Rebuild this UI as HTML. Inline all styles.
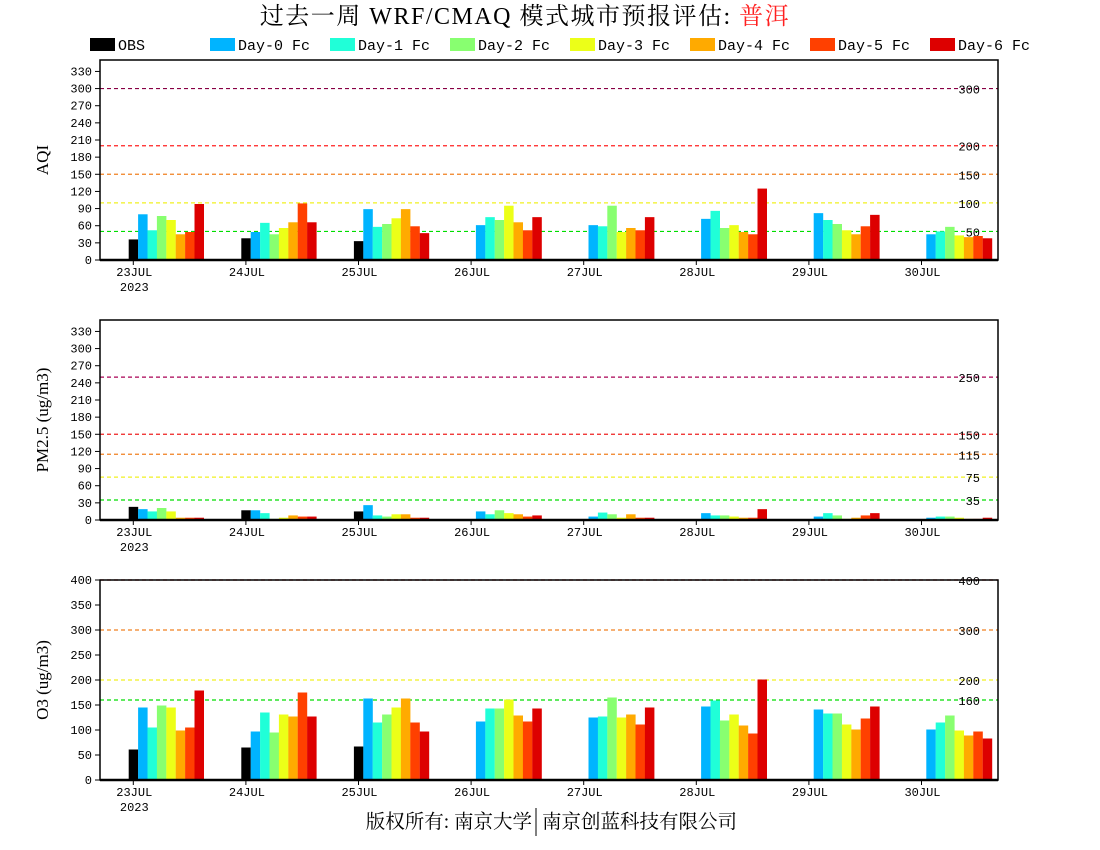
<!DOCTYPE html>
<html><head><meta charset="utf-8"><style>
body{margin:0;background:#fff;}
svg{display:block;font-family:"Liberation Mono",monospace;}
</style></head><body>
<svg id="chart" width="1100" height="850" xmlns="http://www.w3.org/2000/svg">
<text x="525" y="24" text-anchor="middle" font-family="'Liberation Serif','Noto Serif CJK SC',serif" font-size="24" letter-spacing="1.5">过去一周 WRF/CMAQ 模式城市预报评估: <tspan fill="#ff2020">普洱</tspan></text>
<g id="legend"></g>
<g id="panels"></g>
<text x="532" y="828" text-anchor="end" font-family="'Liberation Serif','Noto Serif CJK SC',serif" font-size="19.5">版权所有: 南京大学</text>
<text x="542" y="828" text-anchor="start" font-family="'Liberation Serif','Noto Serif CJK SC',serif" font-size="19.5">南京创蓝科技有限公司</text>
<line x1="536" y1="808" x2="536" y2="836" stroke="#000" stroke-width="1"/>
</svg>
<script>
const categories = ["23JUL","24JUL","25JUL","26JUL","27JUL","28JUL","29JUL","30JUL"];
const seriesNames = ["OBS","Day-0 Fc","Day-1 Fc","Day-2 Fc","Day-3 Fc","Day-4 Fc","Day-5 Fc","Day-6 Fc"];
const seriesColors = ["#000000","#00b4ff","#20ffd8","#88ff70","#ecff18","#ffaa00","#ff4000","#dd0000"];
// values per day: [OBS, D0..D6]; null = missing
const aqiValues = [
 [36,80,52,77,70,45,49,98],
 [38,49,65,45,56,66,99,66],
 [33,89,58,63,73,89,59,47],
 [null,61,75,70,95,66,52,75],
 [null,61,59,95,49,56,52,75],
 [null,72,86,56,61,49,45,125],
 [null,82,70,63,52,45,59,79],
 [null,45,50,58,43,40,42,38]
];
const pm25Values = [
 [23,19,15,21,15,4,4,4],
 [17,17,12,2,4,8,6,6],
 [15,26,8,6,10,10,4,4],
 [null,15,10,17,12,10,6,8],
 [null,6,13,10,4,10,4,4],
 [null,12,8,8,6,4,4,19],
 [null,6,12,8,2,4,8,12],
 [null,4,6,6,4,2,2,4]
];
const o3Values = [
 [61,145,105,149,145,99,105,179],
 [65,97,135,95,131,127,175,127],
 [67,163,115,131,145,163,115,97],
 [null,117,143,143,161,129,117,143],
 [null,125,127,165,125,131,111,145],
 [null,147,159,119,131,109,93,201],
 [null,141,133,133,111,101,123,147],
 [null,101,115,129,99,89,97,83]
];
const aqiTicks = [0,30,60,90,120,150,180,210,240,270,300,330];
const pmTicks = [0,30,60,90,120,150,180,210,240,270,300,330];
const o3Ticks = [0,50,100,150,200,250,300,350,400];
const aqiLevels = [50,100,150,200,300];
const pmLevels = [35,75,115,150,250];
const o3Levels = [160,200,300,400];
const aqiLevelColors = ["#00dd00","#f0f020","#f08020","#ff2020","#880044"];
const pmLevelColors = ["#00dd00","#f0f020","#f08020","#ee2020","#aa0055"];
const o3LevelColors = ["#00dd00","#f0f020","#f08020","#ee0000"];

const NS="http://www.w3.org/2000/svg";
function mk(tag,attrs,parent){const e=document.createElementNS(NS,tag);for(const k in attrs)e.setAttribute(k,attrs[k]);parent.appendChild(e);return e;}
const legend=document.getElementById('legend');
seriesNames.forEach((n,i)=>{
  const lx = i===0 ? 90 : 210+(i-1)*120;
  const r=mk('rect',{x:lx,y:38,width:25,height:13,fill:seriesColors[i]},legend);
  
  
  const t=mk('text',{x:lx+28,y:50,'font-size':15},legend);
  
  
  t.textContent=n;
});

const X0=100,X1=998;
function xTick(i){return 133.3+112.6*i;}
function xBar(i,j){return xTick(i)-4.6+9.4*j;}
const panels=[
 {top:60,max:350,vals:aqiValues,ticks:aqiTicks,levels:aqiLevels,lc:aqiLevelColors,title:"AQI",name:"aqi"},
 {top:320,max:350,vals:pm25Values,ticks:pmTicks,levels:pmLevels,lc:pmLevelColors,title:"PM2.5 (ug/m3)",name:"pm25"},
 {top:580,max:400,vals:o3Values,ticks:o3Ticks,levels:o3Levels,lc:o3LevelColors,title:"O3 (ug/m3)",name:"o3"}
];
const root=document.getElementById('panels');
panels.forEach(p=>{
  const g=mk('g',{},root);
  
  
  const H=200, bottom=p.top+H;
  const y=v=>bottom - v/p.max*H;
  p.levels.forEach((lv,k)=>{
    const l=mk('line',{x1:X0,x2:X1,y1:y(lv),y2:y(lv),stroke:p.lc[k],'stroke-width':1.2,'stroke-dasharray':'4,3'},g);
    
    
    const t=mk('text',{x:980,y:y(lv)+5,'font-size':12,'text-anchor':'end'},g);
    
    
    t.textContent=lv;
  });
  p.vals.forEach((row,i)=>{
    row.forEach((v,j)=>{
      if(v===null) return;
      const r=mk('rect',{x:xBar(i,j),y:y(v),width:9.5,height:bottom-y(v),fill:seriesColors[j]},g);
      
      
    });
  });
  const f=mk('rect',{x:X0,y:p.top,width:X1-X0,height:H,fill:'none',stroke:'#000','stroke-width':1.5},g);
  
  
  mk('line',{x1:X0,x2:X1,y1:bottom,y2:bottom,stroke:'#000','stroke-width':2.5},g);
  p.ticks.forEach(tv=>{
    mk('line',{x1:X0-5,x2:X0,y1:y(tv),y2:y(tv),stroke:'#000','stroke-width':1},g);
    const t=mk('text',{x:X0-8,y:y(tv)+4,'font-size':12,'text-anchor':'end'},g);
    
    
    t.textContent=tv;
  });
  categories.forEach((c,i)=>{
    mk('line',{x1:xTick(i),x2:xTick(i),y1:bottom,y2:bottom+5,stroke:'#000','stroke-width':1},g);
    const t=mk('text',{x:xTick(i)+1,y:bottom+16,'font-size':12,'text-anchor':'middle'},g);
    
    
    t.textContent=c;
  });
  const yr=mk('text',{x:xTick(0)+1,y:bottom+31,'font-size':12,'text-anchor':'middle'},g);
  
  
  yr.textContent='2023';
  const cy=p.top+H/2;
  const at=mk('text',{x:48,y:cy,'font-size':17,'text-anchor':'middle','font-family':"'Liberation Serif',serif",transform:'rotate(-90 48 '+cy+')'},g);
  
  
  at.textContent=p.title;
});
</script>
</body></html>
